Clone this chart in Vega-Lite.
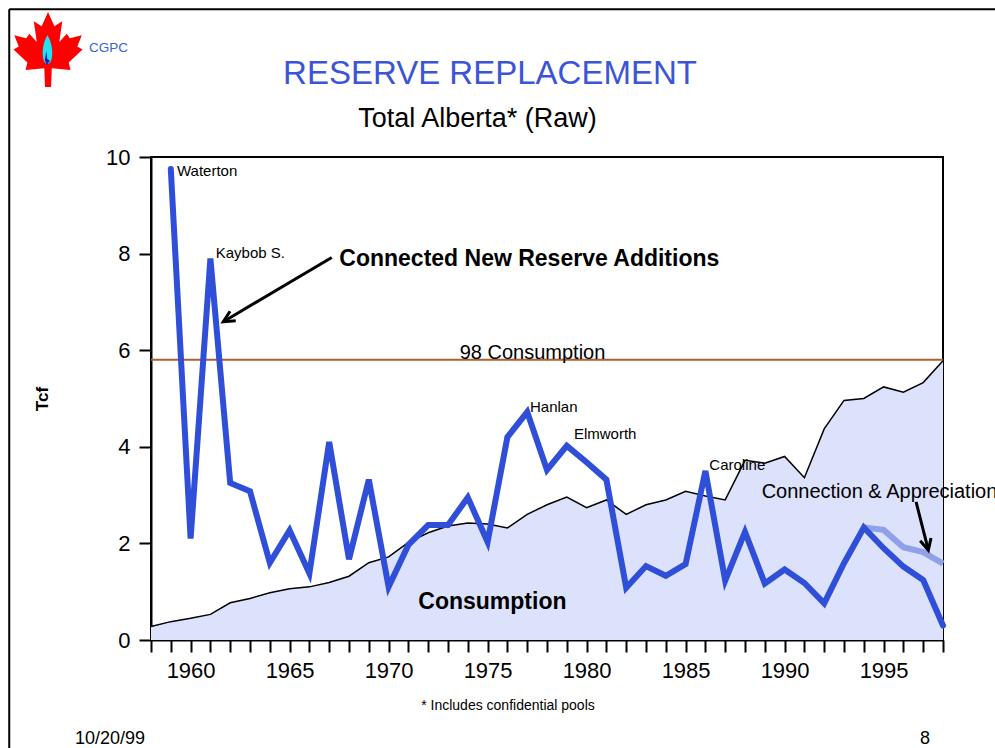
{
  "$schema": "https://vega.github.io/schema/vega-lite/v6.json",
  "width": 792,
  "height": 483,
  "autosize": "none",
  "padding": {"left": 151, "top": 157, "right": 52, "bottom": 108},
  "background": "white",
  "config": {
    "view": {"stroke": "black", "strokeWidth": 2},
    "font": "Liberation Sans",
    "text": {"font": "Liberation Sans"},
    "axis": {
      "labelFontSize": 22, "labelColor": "black", "labelFont": "Liberation Sans",
      "labelOverlap": false, "labelFlush": false,
      "tickSize": 12, "tickWidth": 2, "tickColor": "black",
      "domainColor": "black", "domainWidth": 2, "grid": false,
      "titleFont": "Liberation Sans", "titleColor": "black"
    },
    "axisX": {"labelPadding": 8, "tickCount": 40},
    "axisY": {"labelPadding": 9, "tickCount": 5}
  },
  "datasets": {
    "series": [
      {"year": 1958, "additions": null, "consumption": 0.28, "appreciation": null},
      {"year": 1959, "additions": 9.75, "consumption": 0.38, "appreciation": null},
      {"year": 1960, "additions": 2.1, "consumption": 0.45, "appreciation": null},
      {"year": 1961, "additions": 7.9, "consumption": 0.53, "appreciation": null},
      {"year": 1962, "additions": 3.25, "consumption": 0.77, "appreciation": null},
      {"year": 1963, "additions": 3.08, "consumption": 0.86, "appreciation": null},
      {"year": 1964, "additions": 1.6, "consumption": 0.98, "appreciation": null},
      {"year": 1965, "additions": 2.27, "consumption": 1.06, "appreciation": null},
      {"year": 1966, "additions": 1.38, "consumption": 1.1, "appreciation": null},
      {"year": 1967, "additions": 4.1, "consumption": 1.19, "appreciation": null},
      {"year": 1968, "additions": 1.67, "consumption": 1.32, "appreciation": null},
      {"year": 1969, "additions": 3.32, "consumption": 1.6, "appreciation": null},
      {"year": 1970, "additions": 1.1, "consumption": 1.72, "appreciation": null},
      {"year": 1971, "additions": 1.97, "consumption": 2.02, "appreciation": null},
      {"year": 1972, "additions": 2.38, "consumption": 2.22, "appreciation": null},
      {"year": 1973, "additions": 2.38, "consumption": 2.36, "appreciation": null},
      {"year": 1974, "additions": 2.95, "consumption": 2.42, "appreciation": null},
      {"year": 1975, "additions": 2.03, "consumption": 2.4, "appreciation": null},
      {"year": 1976, "additions": 4.2, "consumption": 2.32, "appreciation": null},
      {"year": 1977, "additions": 4.72, "consumption": 2.6, "appreciation": null},
      {"year": 1978, "additions": 3.52, "consumption": 2.8, "appreciation": null},
      {"year": 1979, "additions": 4.02, "consumption": 2.96, "appreciation": null},
      {"year": 1980, "additions": 3.68, "consumption": 2.74, "appreciation": null},
      {"year": 1981, "additions": 3.32, "consumption": 2.9, "appreciation": null},
      {"year": 1982, "additions": 1.08, "consumption": 2.6, "appreciation": null},
      {"year": 1983, "additions": 1.53, "consumption": 2.8, "appreciation": null},
      {"year": 1984, "additions": 1.33, "consumption": 2.9, "appreciation": null},
      {"year": 1985, "additions": 1.57, "consumption": 3.08, "appreciation": null},
      {"year": 1986, "additions": 3.5, "consumption": 2.98, "appreciation": null},
      {"year": 1987, "additions": 1.23, "consumption": 2.9, "appreciation": null},
      {"year": 1988, "additions": 2.24, "consumption": 3.72, "appreciation": null},
      {"year": 1989, "additions": 1.17, "consumption": 3.66, "appreciation": null},
      {"year": 1990, "additions": 1.46, "consumption": 3.8, "appreciation": null},
      {"year": 1991, "additions": 1.18, "consumption": 3.36, "appreciation": null},
      {"year": 1992, "additions": 0.76, "consumption": 4.37, "appreciation": null},
      {"year": 1993, "additions": 1.59, "consumption": 4.96, "appreciation": null},
      {"year": 1994, "additions": 2.33, "consumption": 5.0, "appreciation": 2.33},
      {"year": 1995, "additions": 1.9, "consumption": 5.24, "appreciation": 2.28},
      {"year": 1996, "additions": 1.52, "consumption": 5.13, "appreciation": 1.92},
      {"year": 1997, "additions": 1.24, "consumption": 5.33, "appreciation": 1.82},
      {"year": 1998, "additions": 0.3, "consumption": 5.78, "appreciation": 1.58}
    ],
    "reference": [
      {"label": "98 Consumption", "value": 5.8}
    ],
    "notes": [
      {"kind": "small", "x": 1959.31, "y": 9.71, "text": "Waterton"},
      {"kind": "small", "x": 1961.27, "y": 8.01, "text": "Kaybob S."},
      {"kind": "small", "x": 1977.14, "y": 4.83, "text": "Hanlan"},
      {"kind": "small", "x": 1979.36, "y": 4.26, "text": "Elmworth"},
      {"kind": "small", "x": 1986.2, "y": 3.62, "text": "Caroline"},
      {"kind": "bold", "x": 1967.51, "y": 7.88, "text": "Connected New Reserve Additions"},
      {"kind": "bold", "x": 1971.5, "y": 0.79, "text": "Consumption"},
      {"kind": "mid", "x": 1973.59, "y": 5.81, "text": "98 Consumption"},
      {"kind": "mid", "x": 1988.84, "y": 2.934, "text": "Connection & Appreciation"},
      {"kind": "title", "x": 1975.12, "y": 11.505, "text": "RESERVE REPLACEMENT"},
      {"kind": "subtitle", "x": 1974.49, "y": 10.615, "text": "Total Alberta* (Raw)"},
      {"kind": "brand", "x": 1954.87, "y": 12.265, "text": "CGPC"},
      {"kind": "footnote", "x": 1976.03, "y": -1.366, "text": "* Includes confidential pools"},
      {"kind": "footer", "x": 1954.16, "y": -2.06, "text": "10/20/99"},
      {"kind": "footer", "x": 1996.84, "y": -2.06, "text": "8"}
    ],
    "arrows": [
      {"id": "a1", "x": 1967.13, "y": 7.92, "x2": 1961.65, "y2": 6.59},
      {"id": "a2", "x": 1996.64, "y": 2.86, "x2": 1997.26, "y2": 1.86}
    ],
    "frame": [
      {"x": 1950.84, "x2": 2010, "y": 13.057, "y2": 13.057},
      {"x": 1950.84, "x2": 1950.84, "y": 13.057, "y2": -5}
    ],
    "logo": [
      {"part": "leaf", "x": 1952.8, "y": 12.226},
      {"part": "flame", "x": 1952.77, "y": 12.215},
      {"part": "core", "x": 1952.72, "y": 12.05}
    ]
  },
  "layer": [
    {
      "data": {"name": "series"},
      "mark": {"type": "area", "color": "#dde2fc", "opacity": 1},
      "encoding": {
        "x": {"field": "year", "type": "quantitative", "scale": {"domain": [1958, 1998], "nice": false, "zero": false},
          "axis": {
            "title": null,
            "tickCount": 40,
            "labelExpr": "datum.value % 5 == 0 ? format(datum.value, 'd') : ''"
          }},
        "y": {"field": "consumption", "type": "quantitative", "scale": {"domain": [0, 10], "nice": false, "zero": false},
          "axis": {
            "title": "Tcf", "titleFontSize": 17, "titleFontWeight": "bold", "titlePadding": 54,
            "tickCount": 5, "format": "d"
          }}
      }
    },
    {
      "data": {"name": "series"},
      "mark": {"type": "line", "color": "black", "strokeWidth": 1.5},
      "encoding": {
        "x": {"field": "year", "type": "quantitative"},
        "y": {"field": "consumption", "type": "quantitative"}
      }
    },
    {
      "data": {"name": "reference"},
      "mark": {"type": "rule", "color": "#b0602c", "strokeWidth": 2},
      "encoding": {
        "y": {"field": "value", "type": "quantitative"}
      }
    },
    {
      "data": {"name": "series"},
      "mark": {"type": "line", "color": "#8fa1e8", "strokeWidth": 6},
      "encoding": {
        "x": {"field": "year", "type": "quantitative"},
        "y": {"field": "appreciation", "type": "quantitative"}
      }
    },
    {
      "data": {"name": "series"},
      "mark": {"type": "line", "color": "#304fd9", "strokeWidth": 6, "strokeCap": "round"},
      "encoding": {
        "x": {"field": "year", "type": "quantitative"},
        "y": {"field": "additions", "type": "quantitative"}
      }
    },
    {
      "data": {"name": "arrows"},
      "mark": {"type": "rule", "color": "black", "strokeWidth": 3},
      "encoding": {
        "x": {"field": "x", "type": "quantitative"},
        "y": {"field": "y", "type": "quantitative"},
        "x2": {"field": "x2"},
        "y2": {"field": "y2"}
      }
    },
    {
      "data": {"name": "arrows"},
      "transform": [{"filter": "datum.id == 'a1'"}],
      "mark": {"type": "point", "shape": "M-0.5,1L0,0L0.5,1", "filled": false, "stroke": "black", "strokeWidth": 3, "size": 500, "angle": 239.3, "opacity": 1},
      "encoding": {
        "x": {"field": "x2", "type": "quantitative"},
        "y": {"field": "y2", "type": "quantitative"}
      }
    },
    {
      "data": {"name": "arrows"},
      "transform": [{"filter": "datum.id == 'a2'"}],
      "mark": {"type": "point", "shape": "M-0.5,1L0,0L0.5,1", "filled": false, "stroke": "black", "strokeWidth": 3, "size": 500, "angle": 165.7, "opacity": 1},
      "encoding": {
        "x": {"field": "x2", "type": "quantitative"},
        "y": {"field": "y2", "type": "quantitative"}
      }
    },
    {
      "data": {"name": "frame"},
      "mark": {"type": "rule", "color": "black", "strokeWidth": 2},
      "encoding": {
        "x": {"field": "x", "type": "quantitative"},
        "y": {"field": "y", "type": "quantitative"},
        "x2": {"field": "x2"},
        "y2": {"field": "y2"}
      }
    },
    {
      "data": {"name": "logo"},
      "transform": [{"filter": "datum.part == 'leaf'"}],
      "mark": {"type": "point", "shape": "M0,-1L0.17,-0.62L0.38,-0.75L0.3,-0.2L0.5,-0.42L0.58,-0.3L0.9,-0.38L0.78,-0.08L0.92,0L0.55,0.35L0.6,0.55L0.1,0.5L0.08,1L-0.08,1L-0.1,0.5L-0.6,0.55L-0.55,0.35L-0.92,0L-0.78,-0.08L-0.9,-0.38L-0.58,-0.3L-0.5,-0.42L-0.3,-0.2L-0.38,-0.75L-0.17,-0.62Z", "filled": true, "color": "#ff0000", "size": 5625, "opacity": 1, "strokeWidth": 0},
      "encoding": {
        "x": {"field": "x", "type": "quantitative"},
        "y": {"field": "y", "type": "quantitative"}
      }
    },
    {
      "data": {"name": "logo"},
      "transform": [{"filter": "datum.part == 'flame'"}],
      "mark": {"type": "point", "shape": "M0,-1C0.3,-0.5 0.4,0.2 0.25,0.7C0.15,1 -0.15,1 -0.25,0.7C-0.4,0.2 -0.3,-0.5 0,-1Z", "filled": true, "color": "#1ee3f2", "size": 900, "opacity": 1, "strokeWidth": 0},
      "encoding": {
        "x": {"field": "x", "type": "quantitative"},
        "y": {"field": "y", "type": "quantitative"}
      }
    },
    {
      "data": {"name": "logo"},
      "transform": [{"filter": "datum.part == 'core'"}],
      "mark": {"type": "point", "shape": "M0,-1L0.1,0.1L0.5,0.4L0.05,1L-0.25,0.3Z", "filled": true, "color": "#1420c8", "size": 196, "opacity": 1, "strokeWidth": 0},
      "encoding": {
        "x": {"field": "x", "type": "quantitative"},
        "y": {"field": "y", "type": "quantitative"}
      }
    },
    {
      "data": {"name": "notes"},
      "transform": [{"filter": "datum.kind == 'small'"}],
      "mark": {"type": "text", "align": "left", "baseline": "middle", "fontSize": 15, "color": "black"},
      "encoding": {
        "x": {"field": "x", "type": "quantitative"},
        "y": {"field": "y", "type": "quantitative"},
        "text": {"field": "text"}
      }
    },
    {
      "data": {"name": "notes"},
      "transform": [{"filter": "datum.kind == 'bold'"}],
      "mark": {"type": "text", "align": "left", "baseline": "middle", "fontSize": 23, "fontWeight": "bold", "color": "black"},
      "encoding": {
        "x": {"field": "x", "type": "quantitative"},
        "y": {"field": "y", "type": "quantitative"},
        "text": {"field": "text"}
      }
    },
    {
      "data": {"name": "notes"},
      "transform": [{"filter": "datum.kind == 'mid'"}],
      "mark": {"type": "text", "align": "left", "baseline": "alphabetic", "fontSize": 20, "color": "black"},
      "encoding": {
        "x": {"field": "x", "type": "quantitative"},
        "y": {"field": "y", "type": "quantitative"},
        "text": {"field": "text"}
      }
    },
    {
      "data": {"name": "notes"},
      "transform": [{"filter": "datum.kind == 'title'"}],
      "mark": {"type": "text", "align": "center", "baseline": "alphabetic", "fontSize": 33, "color": "#3c55d6"},
      "encoding": {
        "x": {"field": "x", "type": "quantitative"},
        "y": {"field": "y", "type": "quantitative"},
        "text": {"field": "text"}
      }
    },
    {
      "data": {"name": "notes"},
      "transform": [{"filter": "datum.kind == 'subtitle'"}],
      "mark": {"type": "text", "align": "center", "baseline": "alphabetic", "fontSize": 27, "color": "black"},
      "encoding": {
        "x": {"field": "x", "type": "quantitative"},
        "y": {"field": "y", "type": "quantitative"},
        "text": {"field": "text"}
      }
    },
    {
      "data": {"name": "notes"},
      "transform": [{"filter": "datum.kind == 'brand'"}],
      "mark": {"type": "text", "align": "left", "baseline": "middle", "fontSize": 13.5, "color": "#3a63e0"},
      "encoding": {
        "x": {"field": "x", "type": "quantitative"},
        "y": {"field": "y", "type": "quantitative"},
        "text": {"field": "text"}
      }
    },
    {
      "data": {"name": "notes"},
      "transform": [{"filter": "datum.kind == 'footnote'"}],
      "mark": {"type": "text", "align": "center", "baseline": "middle", "fontSize": 14, "color": "black"},
      "encoding": {
        "x": {"field": "x", "type": "quantitative"},
        "y": {"field": "y", "type": "quantitative"},
        "text": {"field": "text"}
      }
    },
    {
      "data": {"name": "notes"},
      "transform": [{"filter": "datum.kind == 'footer'"}],
      "mark": {"type": "text", "align": "left", "baseline": "middle", "fontSize": 18, "color": "black"},
      "encoding": {
        "x": {"field": "x", "type": "quantitative"},
        "y": {"field": "y", "type": "quantitative"},
        "text": {"field": "text"}
      }
    }
  ]
}
